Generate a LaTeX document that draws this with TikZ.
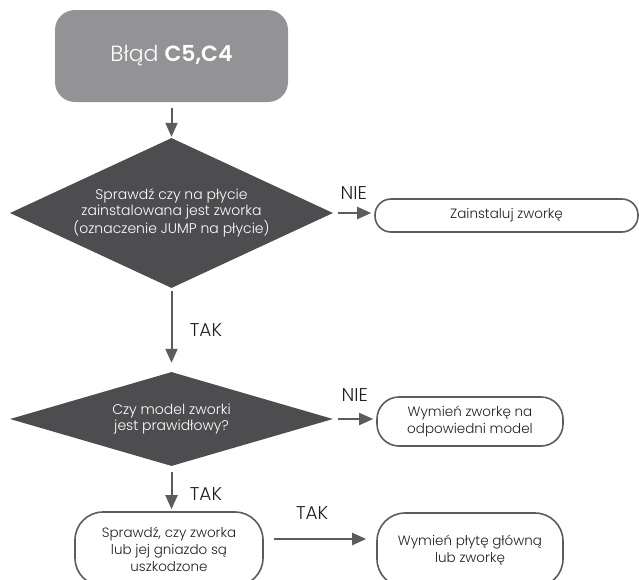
\documentclass[tikz,border=0pt]{standalone}
\usepackage{fontspec}
\setmainfont{Poppins Light}[BoldFont={Poppins SemiBold}]
\usetikzlibrary{shapes.geometric, arrows.meta, positioning}

\definecolor{errgray}{HTML}{939396}
\definecolor{diamgray}{HTML}{4D4D4F}
\definecolor{linegray}{HTML}{5C5C5E}
\definecolor{txtdark}{HTML}{231F20}

\begin{document}
\begin{tikzpicture}[x=1pt, y=-1pt,
  decision/.style={diamond, fill=diamgray, text=white, inner sep=0pt, align=center,
    font=\fontsize{14}{15.5}\selectfont},
  action/.style={draw=linegray, line width=1.6pt, fill=white, align=center, inner sep=0pt,
    text=txtdark, font=\fontsize{13.5}{17}\selectfont},
  flow/.style={-{Triangle[length=14pt,width=12pt]}, draw=linegray, line width=2pt},
  answer/.style={font=\fontsize{18.5}{22}\selectfont, text=txtdark}]
\useasboundingbox (0,0) rectangle (639,579);

% Start
\node[fill=errgray, rounded corners=20pt, minimum width=233pt, minimum height=92pt,
  text=white, font=\fontsize{22}{26}\selectfont] (err) at (171.5,56) {Błąd \textbf{C5,C4}};

% Decisions
\node[decision, aspect=2.15, minimum width=323pt, minimum height=150pt] (jump) at (171.5,213)
  {Sprawdź czy na płycie\\zainstalowana jest zworka\\(oznaczenie JUMP na płycie)};
\node[decision, aspect=3.44, minimum width=323pt, minimum height=94pt] (model) at (171.5,419)
  {Czy model zworki\\jest prawidłowy?};

% Actions
\node[action, rounded corners=16pt, minimum width=263pt, minimum height=33pt] (inst) at (506.5,215.5)
  {Zainstaluj zworkę};
\node[action, rounded corners=22pt, minimum width=186pt, minimum height=49pt] (swap) at (470,421.5)
  {Wymień zworkę na\\odpowiedni model};
\node[action, rounded corners=28pt, minimum width=188pt, minimum height=74pt] (check) at (169,549)
  {Sprawdź, czy zworka\\lub jej gniazdo są\\uszkodzone};
\node[action, rounded corners=28pt, minimum width=186pt, minimum height=74pt] (board) at (470,550)
  {Wymień płytę główną\\lub zworkę};

% Arrows
\draw[flow, shorten <=6pt, shorten >=1pt] (err) -- (jump);
\draw[flow, shorten <=3pt, shorten >=9pt] (jump.south) -- (model.north)
  node[answer, midway, right=14pt] {TAK};
\draw[flow, shorten <=5pt, shorten >=3pt] (jump.east) -- (jump.east -| inst.west)
  node[answer, midway, above=9pt] {NIE};
\draw[flow, shorten <=5pt, shorten >=3pt] (model.east) -- (model.east -| swap.west)
  node[answer, midway, above=13pt] {NIE};
\draw[flow, shorten <=6pt, shorten >=2pt] (model.south) -- (model.south |- check.north)
  node[answer, pos=0.62, right=14pt] {TAK};
\draw[flow, shorten <=10pt, shorten >=10pt] ([yshift=10pt]check.east) -- ([yshift=10pt]check.east -| board.west)
  node[answer, pos=0.43, above=15pt] {TAK};

\end{tikzpicture}
\end{document}
